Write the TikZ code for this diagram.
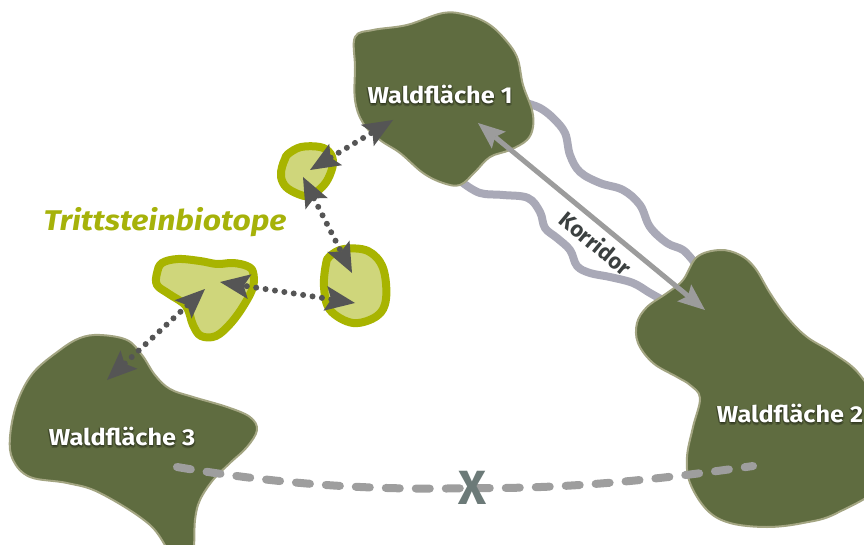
\documentclass[tikz,border=0pt]{standalone}
\usepackage{fontspec}
\setmainfont{Fira Sans}
\usetikzlibrary{arrows.meta}

\definecolor{forest}{HTML}{5F6C40}
\definecolor{forestedge}{HTML}{A3A582}
\definecolor{stonefill}{HTML}{CFD67B}
\definecolor{stoneedge}{HTML}{A8B400}
\definecolor{corridorline}{HTML}{A9A9B7}
\definecolor{arrowgray}{HTML}{9C9C9C}
\definecolor{dotgray}{HTML}{555555}
\definecolor{barrier}{HTML}{9E9E9E}
\definecolor{crossmark}{HTML}{6C7A78}
\definecolor{labelgreen}{HTML}{A6B20A}
\definecolor{corridortext}{HTML}{3B4040}

\tikzset{
  forestshape/.style={fill=forest, draw=forestedge, line width=2pt},
  stoneshape/.style={fill=stonefill, draw=stoneedge, line width=8pt, line join=round},
  corridorband/.style={draw=corridorline, line width=8pt, line cap=round},
  dotarrow/.style={dotgray, line width=6pt, line cap=round,
    dash pattern=on 0pt off 9.5pt, {Stealth[length=30pt,width=25pt,inset=6pt,line width=0pt]}-{Stealth[length=30pt,width=25pt,inset=6pt,line width=0pt]}},
  corridorarrow/.style={arrowgray, line width=5pt,
    {Stealth[length=27pt,width=22pt,inset=5pt,line width=0pt]}-{Stealth[length=27pt,width=22pt,inset=5pt,line width=0pt]}},
  barrierline/.style={barrier, line width=8pt, line cap=round, dash pattern=on 14pt off 16pt},
  labeltext/.style={text=white, font=\bfseries\fontsize{23}{23}\selectfont, xscale=1.1, inner sep=0pt},
}

% white area label with a soft dark halo
\newcommand\haloedlabel[3]{%
  \foreach \dx/\dy [count=\k] in {1.2/-1.4, -0.9/-0.9, 0.9/0.7, 0/-2.2, -1.2/0.6}{
    \node[labeltext, text=black, opacity=0.18, xshift=\dx pt, yshift=\dy pt] (#1-halo\k) at (#2) {#3};
  }
  \node[labeltext] (#1) at (#2) {#3};
}

\begin{document}
\begin{tikzpicture}[x=1pt,y=-1pt]
\useasboundingbox (0,0) rectangle (864,545);

% corridor banks
\draw[corridorband] plot[smooth, tension=0.6] coordinates {(526,103) (540,108) (553,118) (565,133) (570,155) (580,172) (600,183) (623,190) (640,205) (650,227) (667,243) (683,250) (694,262)};
\draw[corridorband] plot[smooth, tension=0.6] coordinates {(463,183) (480,193) (503,195) (528,198) (540,212) (545,228) (557,238) (570,250) (577,266) (590,273) (610,277) (633,283) (650,293) (668,303)};

% forest patches
\draw[forestshape] plot[smooth cycle, tension=0.6] coordinates {(355,37) (373,30) (407,25) (443,13) (467,15) (487,23) (503,37) (517,57) (523,85) (532,110) (533,127) (527,140) (510,150) (490,157) (475,172) (460,185) (443,183) (423,173) (400,153) (380,140) (363,123) (355,100) (355,67)};
\draw[forestshape] plot[smooth cycle, tension=0.6] coordinates {(697,257) (720,250) (740,255) (755,268) (770,293) (787,317) (807,337) (833,353) (860,375) (885,420) (885,480) (837,513) (803,523) (767,527) (730,523) (707,510) (690,483) (687,457) (693,427) (700,398) (690,385) (677,377) (653,363) (638,343) (637,323) (647,307) (667,293) (683,280)};
\draw[forestshape] plot[smooth cycle, tension=0.6] coordinates {(100,335) (127,340) (142,355) (155,375) (170,389) (193,397) (227,407) (250,417) (257,430) (247,447) (230,463) (213,480) (200,500) (195,520) (192,560) (175,560) (150,525) (100,493) (67,483) (30,477) (13,460) (10,437) (17,403) (33,373) (60,350) (80,338)};

% stepping stones
\draw[stoneshape] plot[smooth cycle, tension=0.6] coordinates {(288,154) (301,147) (320,147) (330,153) (333,164) (328,179) (320,189) (309,196) (298,194) (286,187) (281,177) (282,167) (285,159)};
\draw[stoneshape] plot[smooth cycle, tension=0.6] coordinates {(330,256) (344,249) (368,251) (383,268) (386,299) (377,316) (353,323) (330,310) (324,287) (326,264)};
\draw[stoneshape] plot[smooth cycle, tension=0.6] coordinates {(157,273) (162,263) (178,259) (200,261) (217,264) (233,263) (247,266) (253,272) (253,287) (244,305) (231,323) (216,336) (201,336) (193,325) (186,306) (169,294) (157,285)};

% arrow end points
\coordinate (sA1) at (310,170);
\coordinate (w1)  at (393,120);
\coordinate (sA2) at (303,177);
\coordinate (sB1) at (352,273);
\coordinate (sB2) at (355,303);
\coordinate (sC1) at (220,282);
\coordinate (sC2) at (205,289);
\coordinate (w3)  at (107,380);
\coordinate (k1)  at (478,123);
\coordinate (k2)  at (705,310);
\coordinate (b1)  at (177,467);
\coordinate (b2)  at (753,466);
\coordinate (xm)  at (472,488);

% broken link between forest 3 and forest 2
\draw[barrierline] (b1) .. controls (300,488) and (400,490) .. (xm) .. controls (560,489) and (650,481) .. (b2);
\node[text=crossmark, font=\bfseries\fontsize{48}{48}\selectfont, inner sep=0pt] (xlabel) at (xm) {X};

% corridor
\draw[corridorarrow] (k1) -- (k2);
\node[text=corridortext, font=\bfseries\fontsize{22}{22}\selectfont, rotate=-39.5, inner sep=0pt] (korr) at (596,243) {Korridor};

% stepping stone links
\draw[dotarrow] (sA1) -- (w1);
\draw[dotarrow] (sA2) -- (sB1);
\draw[dotarrow] (sB2) -- (sC1);
\draw[dotarrow] (sC2) -- (w3);

% labels
\haloedlabel{lab1}{440,95}{Waldfläche 1}
\haloedlabel{lab2}{790,414}{Waldfläche 2}
\haloedlabel{lab3}{122,437}{Waldfläche 3}
\node[text=labelgreen, font=\bfseries\itshape\fontsize{28.5}{28.5}\selectfont, xscale=1.12, inner sep=0pt] (tsb) at (165,222) {Trittsteinbiotope};

\end{tikzpicture}
\end{document}
